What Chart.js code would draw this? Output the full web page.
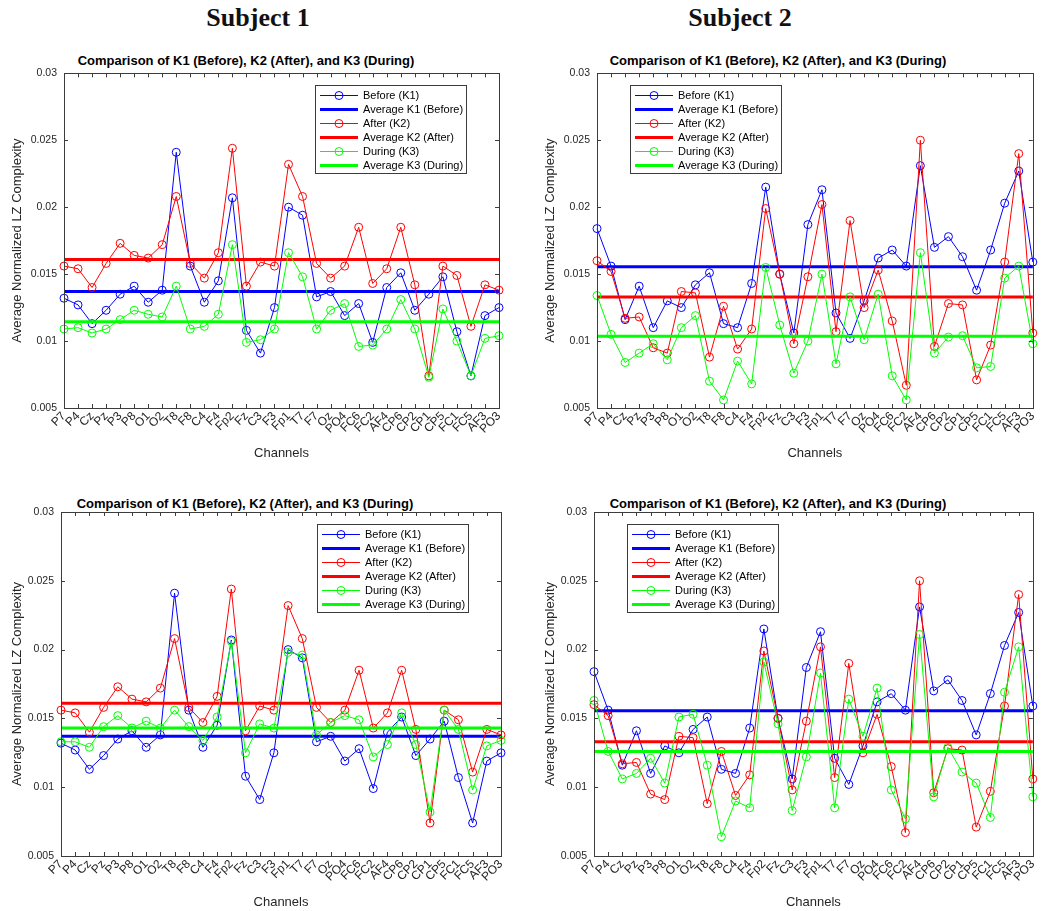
<!DOCTYPE html>
<html>
<head>
<meta charset="utf-8">
<title>LZ complexity per channel</title>
<script src="https://cdn.jsdelivr.net/npm/chart.js@4.4.0/dist/chart.umd.min.js"></script>
<style>
  body { margin: 0; background: #fff; width: 1044px; height: 911px; position: relative; overflow: hidden; }
  .subject { position: absolute; top: 3px; line-height: 30px; font: bold 26px "Liberation Serif", "Times New Roman", serif; color: #111; transform: translateX(-50%); white-space: nowrap; }
  .plot-title { position: absolute; font: bold 13px "Liberation Sans", Arial, sans-serif; color: #000; transform: translate(-50%, -50%); white-space: nowrap; }
  canvas { position: absolute; }
</style>
</head>
<body>
<div class="subject" style="left:258px">Subject 1</div>
<div class="subject" style="left:740px">Subject 2</div>

<div class="plot-title" style="left:246px; top:60px">Comparison of K1 (Before), K2 (After), and K3 (During)</div>
<div class="plot-title" style="left:778px; top:60px">Comparison of K1 (Before), K2 (After), and K3 (During)</div>
<div class="plot-title" style="left:245px; top:503px">Comparison of K1 (Before), K2 (After), and K3 (During)</div>
<div class="plot-title" style="left:778px; top:503px">Comparison of K1 (Before), K2 (After), and K3 (During)</div>

<canvas id="chartTL" width="520" height="405" style="left:0; top:60px"></canvas>
<canvas id="chartTR" width="511" height="405" style="left:533px; top:60px"></canvas>
<canvas id="chartBL" width="520" height="421" style="left:0; top:490px"></canvas>
<canvas id="chartBR" width="511" height="421" style="left:533px; top:490px"></canvas>

<script>
const channels = ['P7', 'P4', 'Cz', 'Pz', 'P3', 'P8', 'O1', 'O2', 'T8', 'F8', 'C4', 'F4', 'Fp2', 'Fz', 'C3', 'F3',
  'Fp1', 'T7', 'F7', 'Oz', 'PO4', 'FC6', 'FC2', 'AF4', 'CP6', 'CP2', 'CP1', 'CP5', 'FC1', 'FC5', 'AF3', 'PO3'];

const yTicks = [0.005, 0.01, 0.015, 0.02, 0.025, 0.03];

// Subject 1
const s1Before = [0.0132, 0.0127, 0.0113, 0.0123, 0.0135, 0.0141, 0.0129, 0.0138, 0.0241, 0.0156, 0.0129, 0.0145, 0.0207, 0.0108, 0.0091, 0.0125,
  0.0200, 0.0194, 0.0133, 0.0137, 0.0119, 0.0128, 0.0099, 0.0140, 0.0151, 0.0123, 0.0135, 0.0148, 0.0107, 0.0074, 0.0119, 0.0125];
const s1After = [0.0156, 0.0154, 0.0140, 0.0158, 0.0173, 0.0164, 0.0162, 0.0172, 0.0208, 0.0158, 0.0147, 0.0166, 0.0244, 0.0141, 0.0159, 0.0156,
  0.0232, 0.0208, 0.0158, 0.0147, 0.0156, 0.0185, 0.0143, 0.0154, 0.0185, 0.0142, 0.0074, 0.0156, 0.0149, 0.0111, 0.0142, 0.0138];
const s1DuringTop = [0.0109, 0.0110, 0.0106, 0.0109, 0.0116, 0.0123, 0.0120, 0.0118, 0.0141, 0.0109, 0.0111, 0.0120, 0.0172, 0.0099, 0.0101, 0.0109,
  0.0166, 0.0148, 0.0109, 0.0123, 0.0128, 0.0096, 0.0097, 0.0109, 0.0131, 0.0109, 0.0073, 0.0124, 0.0100, 0.0074, 0.0102, 0.0104];
const s1DuringBottom = [0.0133, 0.0133, 0.0129, 0.0144, 0.0152, 0.0143, 0.0148, 0.0143, 0.0156, 0.0144, 0.0134, 0.0151, 0.0206, 0.0125, 0.0146, 0.0143,
  0.0198, 0.0196, 0.0138, 0.0147, 0.0152, 0.0149, 0.0122, 0.0131, 0.0154, 0.0131, 0.0082, 0.0156, 0.0142, 0.0098, 0.0130, 0.0134];
const s1AvgBefore = 0.0137;
const s1AvgAfter = 0.0161;
const s1AvgDuringTop = 0.01145;
const s1AvgDuringBottom = 0.0143;

// Subject 2
const s2Before = [0.0184, 0.0156, 0.0116, 0.0141, 0.0110, 0.0130, 0.0125, 0.0142, 0.0151, 0.0113, 0.0110, 0.0143, 0.0215, 0.0150, 0.0106, 0.0187,
  0.0213, 0.0121, 0.0102, 0.0130, 0.0162, 0.0168, 0.0156, 0.0231, 0.0170, 0.0178, 0.0163, 0.0138, 0.0168, 0.0203, 0.0227, 0.0159];
const s2After = [0.0160, 0.0152, 0.0117, 0.0118, 0.0095, 0.0091, 0.0137, 0.0136, 0.0088, 0.0126, 0.0094, 0.0109, 0.0199, 0.0150, 0.0098, 0.0148,
  0.0202, 0.0107, 0.0190, 0.0125, 0.0153, 0.0115, 0.0067, 0.0250, 0.0096, 0.0128, 0.0127, 0.0071, 0.0097, 0.0159, 0.0240, 0.0106];
const s2DuringTop = [0.0134, 0.0105, 0.0084, 0.0091, 0.0098, 0.0086, 0.0110, 0.0119, 0.0070, 0.0056, 0.0085, 0.0068, 0.0155, 0.0112, 0.0076, 0.0100,
  0.0150, 0.0083, 0.0133, 0.0101, 0.0135, 0.0074, 0.0056, 0.0166, 0.0091, 0.0103, 0.0104, 0.0080, 0.0081, 0.0147, 0.0156, 0.0098];
const s2DuringBottom = [0.0163, 0.0126, 0.0106, 0.0110, 0.0121, 0.0103, 0.0151, 0.0153, 0.0116, 0.0064, 0.0090, 0.0085, 0.0191, 0.0146, 0.0083, 0.0122,
  0.0183, 0.0085, 0.0164, 0.0137, 0.0172, 0.0098, 0.0077, 0.0211, 0.0093, 0.0129, 0.0111, 0.0103, 0.0078, 0.0169, 0.0202, 0.0093];
const s2AvgBefore = 0.01555;
const s2AvgAfter = 0.0133;
const s2AvgDuringTop = 0.01035;
const s2AvgDuringBottom = 0.0126;

const BLUE = '#0000ff';
const RED = '#ff0000';
const GREEN = '#00ff00';
const AXIS = '#3c3c3c';
const FONT = '"Liberation Sans", Arial, sans-serif';

// MATLAB-like box with inward ticks on all four sides
const matlabFrame = {
  id: 'matlabFrame',
  afterDatasetsDraw(chart) {
    const { ctx, chartArea: a, scales: { x, y } } = chart;
    ctx.save();
    ctx.strokeStyle = AXIS;
    ctx.lineWidth = 1;
    ctx.beginPath();
    x.ticks.forEach((t, i) => {
      const px = Math.round(x.getPixelForTick(i)) + 0.5;
      ctx.moveTo(px, a.bottom); ctx.lineTo(px, a.bottom - 4);
      ctx.moveTo(px, a.top); ctx.lineTo(px, a.top + 4);
    });
    y.ticks.forEach((t, i) => {
      const py = Math.round(y.getPixelForTick(i)) + 0.5;
      ctx.moveTo(a.left, py); ctx.lineTo(a.left + 4, py);
      ctx.moveTo(a.right, py); ctx.lineTo(a.right - 4, py);
    });
    ctx.stroke();
    ctx.strokeRect(Math.round(a.left) + 0.5, Math.round(a.top) + 0.5, Math.round(a.width), Math.round(a.height));
    ctx.restore();
  }
};

// boxed legend inside the axes, line + marker samples
const matlabLegend = {
  id: 'matlabLegend',
  afterDraw(chart, args, opts) {
    const { ctx, chartArea: a } = chart;
    const w = 151, h = 88, rowH = 14;
    const left = Math.round(opts.side === 'right' ? a.right - opts.inset - w : a.left + opts.inset);
    const top = Math.round(a.top + opts.top);
    ctx.save();
    ctx.fillStyle = '#fff';
    ctx.fillRect(left, top, w, h);
    ctx.strokeStyle = AXIS;
    ctx.lineWidth = 1;
    ctx.strokeRect(left + 0.5, top + 0.5, w, h);
    ctx.font = '11px ' + FONT;
    ctx.textBaseline = 'middle';
    chart.data.datasets.forEach((ds, i) => {
      const cy = top + 10.5 + i * rowH;
      ctx.strokeStyle = ds.borderColor;
      ctx.lineWidth = ds.borderWidth;
      ctx.beginPath();
      ctx.moveTo(left + 5, cy);
      ctx.lineTo(left + 43, cy);
      ctx.stroke();
      if (ds.pointRadius) {
        ctx.lineWidth = 1;
        ctx.beginPath();
        ctx.arc(left + 24, cy, ds.pointRadius, 0, Math.PI * 2);
        ctx.stroke();
      }
      ctx.fillStyle = '#000';
      ctx.fillText(ds.label, left + 48, cy);
    });
    ctx.restore();
  }
};

function series(label, data, color, order) {
  return {
    label, data, order,
    borderColor: color,
    backgroundColor: color,
    borderWidth: 1,
    pointRadius: 4,
    pointBorderWidth: 1,
    pointBorderColor: color,
    pointBackgroundColor: 'rgba(0,0,0,0)',
    tension: 0,
    clip: false
  };
}

function average(label, value, color, order) {
  return {
    label, order,
    data: [{ x: channels[0], y: value }, { x: channels[channels.length - 1], y: value }],
    borderColor: color,
    backgroundColor: color,
    borderWidth: 3,
    pointRadius: 0,
    clip: false
  };
}

function makeChart(id, geo, before, after, during, avgB, avgA, avgD, side) {
  const datasets = [
    series('Before (K1)', before, BLUE, 5),
    average('Average K1 (Before)', avgB, BLUE, 4),
    series('After (K2)', after, RED, 3),
    average('Average K2 (After)', avgA, RED, 2),
    series('During (K3)', during, GREEN, 1),
    average('Average K3 (During)', avgD, GREEN, 0)
  ];

  return new Chart(document.getElementById(id), {
    type: 'line',
    data: { labels: channels, datasets },
    options: {
      responsive: false,
      animation: false,
      events: [],
      layout: { padding: { top: geo.padTop, right: geo.padRight, bottom: 0, left: 0 } },
      plugins: {
        legend: { display: false },
        tooltip: { enabled: false },
        matlabLegend: { side, inset: 33, top: 12 }
      },
      scales: {
        x: {
          type: 'category',
          offset: false,
          grid: { display: false, drawTicks: false },
          border: { display: false },
          ticks: {
            autoSkip: false, minRotation: 45, maxRotation: 45, padding: 1,
            color: '#262626', font: { family: FONT, size: 12 }
          },
          title: {
            display: true, text: 'Channels', color: '#262626',
            font: { family: FONT, size: 13 },
            padding: { top: 0, bottom: geo.xTitlePad }
          },
          afterFit: (s) => { s.height = geo.xHeight; }
        },
        y: {
          min: yTicks[0],
          max: yTicks[yTicks.length - 1],
          grid: { display: false, drawTicks: false },
          border: { display: false },
          afterBuildTicks: (s) => { s.ticks = yTicks.map(v => ({ value: v })); },
          ticks: {
            padding: 7, color: '#262626',
            font: { family: FONT, size: 10.5 },
            callback: (v) => String(+Number(v).toFixed(3))
          },
          title: {
            display: true, text: 'Average Normalized LZ Complexity', color: '#262626',
            font: { family: FONT, size: 13 },
            padding: { top: 10, bottom: 0 }
          },
          afterFit: (s) => { s.width = geo.yWidth; }
        }
      }
    },
    plugins: [matlabFrame, matlabLegend]
  });
}

makeChart('chartTL', { yWidth: 64, xHeight: 57, padTop: 11, padRight: 21, xTitlePad: 4 },
  s1Before, s1After, s1DuringTop, s1AvgBefore, s1AvgAfter, s1AvgDuringTop, 'right');
makeChart('chartTR', { yWidth: 64, xHeight: 57, padTop: 11, padRight: 11, xTitlePad: 4 },
  s2Before, s2After, s2DuringTop, s2AvgBefore, s2AvgAfter, s2AvgDuringTop, 'left');
makeChart('chartBL', { yWidth: 61, xHeight: 55, padTop: 22, padRight: 19, xTitlePad: 1 },
  s1Before, s1After, s1DuringBottom, s1AvgBefore, s1AvgAfter, s1AvgDuringBottom, 'right');
makeChart('chartBR', { yWidth: 61, xHeight: 55, padTop: 22, padRight: 9, xTitlePad: 1 },
  s2Before, s2After, s2DuringBottom, s2AvgBefore, s2AvgAfter, s2AvgDuringBottom, 'left');
</script>
</body>
</html>
